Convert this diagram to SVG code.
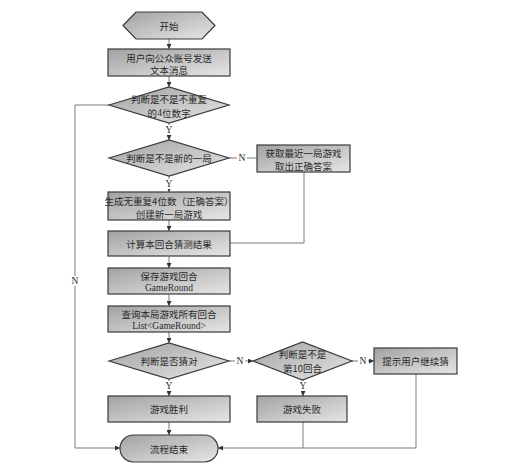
<svg xmlns="http://www.w3.org/2000/svg" width="515" height="467" viewBox="0 0 515 467">
<defs>
<linearGradient id="g" x1="0" y1="0" x2="1" y2="1">
<stop offset="0" stop-color="#a2a2a2"/>
<stop offset="1" stop-color="#e6e6e6"/>
</linearGradient>
<marker id="ar" viewBox="0 0 6 6" refX="6" refY="3" markerWidth="5" markerHeight="5" orient="auto" markerUnits="userSpaceOnUse">
<path d="M0,0 L6,3 L0,6 Z" fill="#333"/>
</marker>
</defs>
<style>
.s{fill:url(#g);stroke:#3a3a3a;stroke-width:1.2}
.t{font-family:"Noto Sans CJK SC","Noto Sans CJK JP",sans-serif;font-size:9.5px;fill:#2a2a2a;text-anchor:middle;dominant-baseline:central}
.l{font-family:"Liberation Serif",serif;font-size:9.5px;fill:#2a2a2a;text-anchor:middle;dominant-baseline:central}
.c{fill:none;stroke:#7a7a7a;stroke-width:1}
.a{marker-end:url(#ar)}
.bg{fill:#fff}
</style>
<rect width="515" height="467" fill="#fff"/>
<g id="connectors">
<line class="c a" x1="169" y1="39" x2="169" y2="49"/>
<line class="c a" x1="169" y1="76" x2="169" y2="87"/>
<line class="c a" x1="169" y1="123" x2="169" y2="140"/>
<line class="c" x1="229" y1="158" x2="257" y2="158"/>
<line class="c a" x1="169" y1="176" x2="169" y2="192"/>
<line class="c a" x1="169" y1="220" x2="169" y2="231"/>
<polyline class="c" points="304,172 304,243 230,243"/>
<line class="c a" x1="169" y1="256" x2="169" y2="268"/>
<line class="c a" x1="169" y1="294" x2="169" y2="306"/>
<line class="c a" x1="169" y1="332" x2="169" y2="343"/>
<line class="c a" x1="229" y1="361" x2="253" y2="361"/>
<line class="c a" x1="352" y1="361" x2="374" y2="361"/>
<line class="c a" x1="169" y1="379" x2="169" y2="396"/>
<line class="c a" x1="303" y1="380" x2="303" y2="396"/>
<line class="c a" x1="169" y1="422" x2="169" y2="435"/>
<polyline class="c a" points="109,105 75,105 75,448 120,448"/>
<polyline class="c a" points="416,374 416,448 218,448"/>
<line class="c" x1="303" y1="422" x2="303" y2="448"/>
<rect class="bg" x="164" y="125" width="10" height="10"/><text class="l" x="169" y="130">Y</text>
<rect class="bg" x="164" y="179" width="10" height="10"/><text class="l" x="169" y="184">Y</text>
<rect class="bg" x="237" y="153" width="10" height="10"/><text class="l" x="242" y="158">N</text>
<rect class="bg" x="70" y="276" width="10" height="10"/><text class="l" x="75" y="281">N</text>
<rect class="bg" x="235" y="356" width="10" height="10"/><text class="l" x="240" y="361">N</text>
<rect class="bg" x="358" y="356" width="10" height="10"/><text class="l" x="363" y="361">N</text>
<rect class="bg" x="164" y="381" width="10" height="10"/><text class="l" x="169" y="386">Y</text>
<rect class="bg" x="298" y="381" width="10" height="10"/><text class="l" x="303" y="386">Y</text>
</g>
<g id="start">
<polygon class="s" points="123,25.5 136,12 202,12 215,25.5 202,39 136,39"/>
<text class="t" x="169" y="25.5">开始</text>
</g>
<g id="send">
<rect class="s" x="108" y="49" width="122" height="27"/>
<text class="t" x="169" y="57.5">用户向公众账号发送</text>
<text class="t" x="169" y="70">文本消息</text>
</g>
<g id="check4">
<polygon class="s" points="109,105 169,87 229,105 169,123"/>
<text class="t" x="169" y="99">判断是不是不重复</text>
<text class="l" x="169" y="113"><tspan font-family="Noto Sans CJK SC,sans-serif">的</tspan>4<tspan font-family="Noto Sans CJK SC,sans-serif">位数字</tspan></text>
</g>
<g id="checknew">
<polygon class="s" points="109,158 169,140 229,158 169,176"/>
<text class="t" x="169" y="158">判断是不是新的一局</text>
</g>
<g id="fetch">
<rect class="s" x="257" y="145" width="93" height="27"/>
<text class="t" x="303.5" y="153">获取最近一局游戏</text>
<text class="t" x="303.5" y="165.5">取出正确答案</text>
</g>
<g id="create">
<rect class="s" x="108" y="192" width="122" height="28"/>
<text class="t" x="169" y="200.5">生成无重复4位数（正确答案）</text>
<text class="t" x="169" y="213.5">创建新一局游戏</text>
</g>
<g id="calc">
<rect class="s" x="108" y="231" width="122" height="25"/>
<text class="t" x="169" y="243.5">计算本回合猜测结果</text>
</g>
<g id="save">
<rect class="s" x="108" y="268" width="122" height="26"/>
<text class="t" x="169" y="275.5">保存游戏回合</text>
<text class="l" x="169" y="288">GameRound</text>
</g>
<g id="query">
<rect class="s" x="108" y="306" width="122" height="26"/>
<text class="t" x="169" y="313.5">查询本局游戏所有回合</text>
<text class="l" x="169" y="326">List&lt;GameRound&gt;</text>
</g>
<g id="correct">
<polygon class="s" points="109,361 169,343 229,361 169,379"/>
<text class="t" x="169" y="361">判断是否猜对</text>
</g>
<g id="round10">
<polygon class="s" points="253,361 302.5,342 352,361 302.5,380"/>
<text class="t" x="302.5" y="354">判断是不是</text>
<text class="t" x="302.5" y="368">第10回合</text>
</g>
<g id="hint">
<rect class="s" x="374" y="348" width="83" height="26"/>
<text class="t" x="415.5" y="361">提示用户继续猜</text>
</g>
<g id="win">
<rect class="s" x="108" y="396" width="122" height="26"/>
<text class="t" x="169" y="409">游戏胜利</text>
</g>
<g id="lose">
<rect class="s" x="257" y="396" width="90" height="26"/>
<text class="t" x="302" y="409">游戏失败</text>
</g>
<g id="end">
<rect class="s" x="120" y="435" width="98" height="27" rx="13.5" ry="13.5"/>
<text class="t" x="169" y="448.5">流程结束</text>
</g>
</svg>
